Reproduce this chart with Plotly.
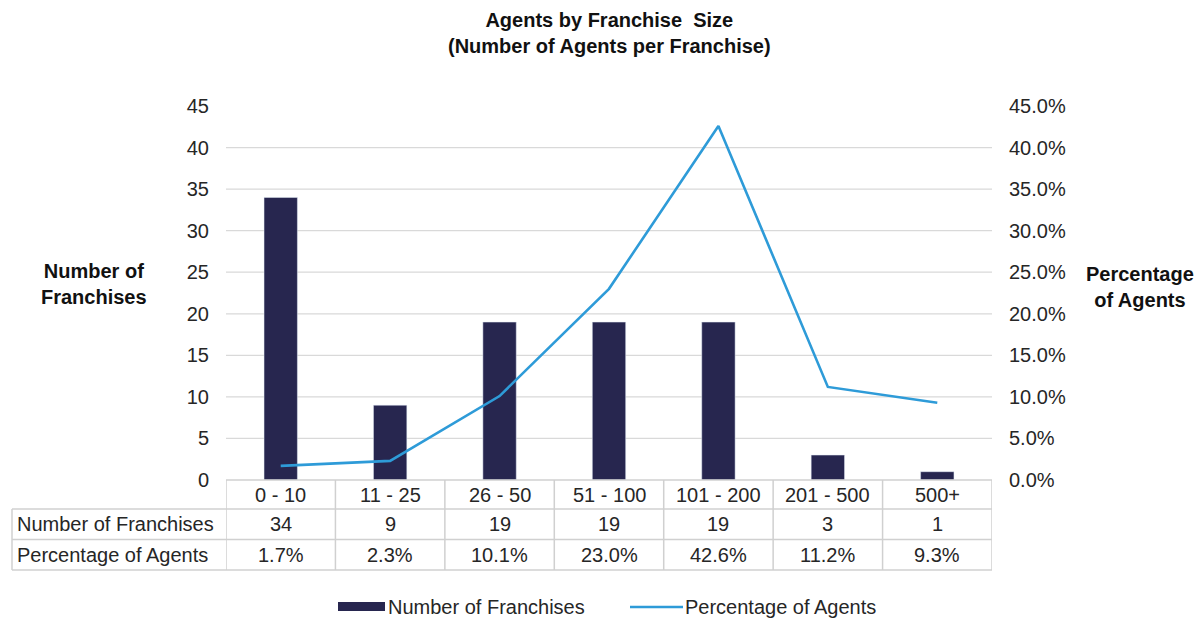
import plotly.graph_objects as go

# ---------------- data ----------------
categories = ["0 - 10", "11 - 25", "26 - 50", "51 - 100", "101 - 200", "201 - 500", "500+"]
num_franchises = [34, 9, 19, 19, 19, 3, 1]
pct_agents = [1.7, 2.3, 10.1, 23.0, 42.6, 11.2, 9.3]  # percent
pct_labels = ["1.7%", "2.3%", "10.1%", "23.0%", "42.6%", "11.2%", "9.3%"]
left_ticks = [0, 5, 10, 15, 20, 25, 30, 35, 40, 45]
right_ticks = [0, 5, 10, 15, 20, 25, 30, 35, 40, 45]  # percent
row_names = ["Number of Franchises", "Percentage of Agents"]

# ---------------- style ----------------
W, H = 1197, 618
L, R, T, B = 226, 205, 106, 138
PW, PH = W - L - R, H - T - B
FONT = "Liberation Sans, Arial, sans-serif"
TXT = "#262626"
BAR = "#27264F"
LINE = "#2E9BD8"
GRID = "#D9D9D9"
BORDER = "#D0D0D0"
FS = 20


def py(pix):  # pixel y -> paper y
    return (H - B - pix) / PH


def px(pix):  # pixel x -> paper x
    return (pix - L) / PW


def txt(x, y, text, xref="paper", xanchor="center", size=FS, color=TXT):
    return dict(x=x, y=y, xref=xref, yref="paper", xanchor=xanchor, yanchor="middle",
                text=text, showarrow=False, font=dict(size=size, color=color, family=FONT))


fig = go.Figure()
fig.add_trace(go.Bar(x=categories, y=num_franchises, marker_color=BAR,
                     width=0.305, name="Number of Franchises", showlegend=False))
fig.add_trace(go.Scatter(x=categories, y=[v / 100 for v in pct_agents], yaxis="y2",
                         mode="lines", line=dict(color=LINE, width=2.6),
                         name="Percentage of Agents", showlegend=False))

shapes = []
# gridlines (except at 0 and top)
for v in left_ticks[1:-1]:
    shapes.append(dict(type="line", xref="paper", yref="y", x0=0, x1=1, y0=v, y1=v,
                       line=dict(color=GRID, width=1.3), layer="below"))

# table
n = len(categories)
row_y = [480, 509, 539.5, 570]
left_edge = px(12)
shapes.append(dict(type="line", xref="x", yref="paper", x0=-0.5, x1=n - 0.5,
                   y0=py(row_y[0]), y1=py(row_y[0]), line=dict(color=BORDER, width=1.5)))
for yy in row_y[1:]:
    shapes.append(dict(type="line", xref="paper", yref="paper", x0=left_edge, x1=1,
                       y0=py(yy), y1=py(yy), line=dict(color=BORDER, width=1.5)))
for i in range(n + 1):
    shapes.append(dict(type="line", xref="x", yref="paper", x0=i - 0.5, x1=i - 0.5,
                       y0=py(row_y[0]), y1=py(row_y[-1]), line=dict(color=BORDER, width=1.5)))
shapes.append(dict(type="line", xref="paper", yref="paper", x0=left_edge, x1=left_edge,
                   y0=py(row_y[1]), y1=py(row_y[-1]), line=dict(color=BORDER, width=1.5)))

annotations = []
row_vals = [[str(v) for v in num_franchises], pct_labels]
for i, c in enumerate(categories):
    annotations.append(txt(c, py((row_y[0] + row_y[1]) / 2), c, xref="x"))
    for r in range(2):
        annotations.append(txt(c, py((row_y[r + 1] + row_y[r + 2]) / 2), row_vals[r][i], xref="x"))
for r in range(2):
    annotations.append(txt(px(15), py((row_y[r + 1] + row_y[r + 2]) / 2), row_names[r],
                           xanchor="left"))

# title and axis titles
annotations.append(txt(0.5, py(33), "<b>Agents by Franchise  Size<br>(Number of Agents per Franchise)</b>",
                       color="#111"))
annotations.append(txt(px(94), py(284), "<b>Number of<br>Franchises</b>", color="#111"))
annotations.append(txt(px(1140), py(287), "<b>Percentage<br>of Agents</b>", color="#111"))

# custom legend
ly = py(607)
shapes.append(dict(type="rect", xref="paper", yref="paper", x0=px(338), x1=px(385),
                   y0=py(611), y1=py(602), fillcolor=BAR, line=dict(width=0)))
shapes.append(dict(type="line", xref="paper", yref="paper", x0=px(630), x1=px(683),
                   y0=ly, y1=ly, line=dict(color=LINE, width=2.6)))
annotations.append(txt(px(386), ly, "Number of Franchises", xanchor="left"))
annotations.append(txt(px(683), ly, "Percentage of Agents", xanchor="left"))

fig.update_layout(
    width=W, height=H,
    margin=dict(l=L, r=R, t=T, b=B, pad=0),
    paper_bgcolor="white", plot_bgcolor="white",
    font=dict(family=FONT, size=FS, color=TXT),
    xaxis=dict(type="category", range=[-0.5, n - 0.5], showticklabels=False, showgrid=False,
               showline=False, zeroline=False, ticks=""),
    yaxis=dict(range=[0, 45], tickvals=left_ticks, showgrid=False, zeroline=False,
               showline=False, ticks="", ticklabelstandoff=16,
               tickfont=dict(size=FS, color=TXT, family=FONT)),
    yaxis2=dict(range=[0, 0.45], tickvals=[v / 100 for v in right_ticks], tickformat=".1%",
                overlaying="y", side="right", showgrid=False, zeroline=False, showline=False,
                ticks="", ticklabelstandoff=16, tickfont=dict(size=FS, color=TXT, family=FONT)),
    shapes=shapes, annotations=annotations, showlegend=False,
)

fig.write_html("out.html")
